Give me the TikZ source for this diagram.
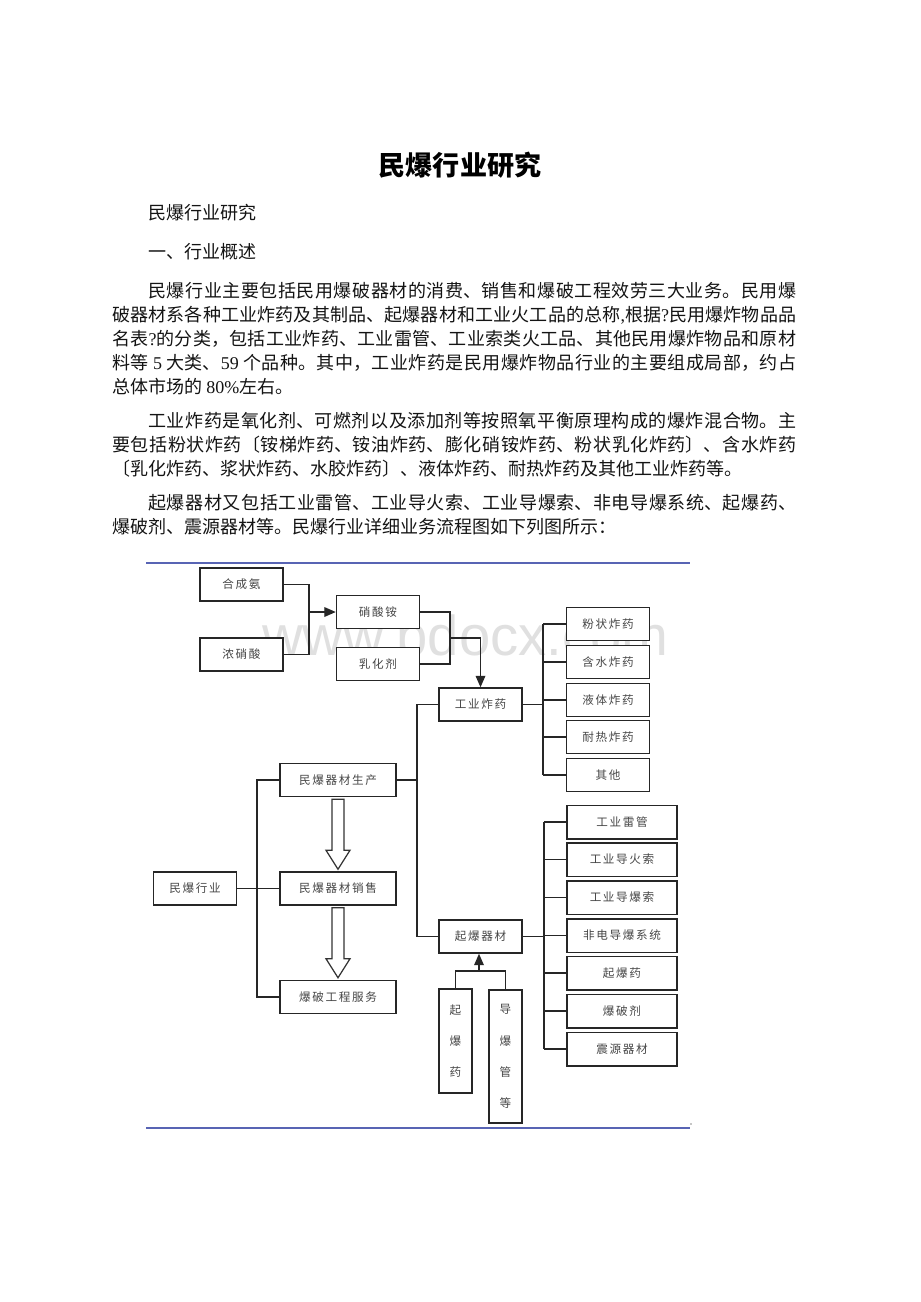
\documentclass[tikz,border=0pt]{standalone}
\usepackage{fontspec}
\setmainfont{Noto Sans CJK SC}
\newfontfamily\latfont{Liberation Serif}
\newfontfamily\boxfont[LetterSpace=14]{Noto Sans CJK SC}
\newfontfamily\wmfont{Liberation Sans}
\usetikzlibrary{arrows.meta}
\XeTeXlinebreaklocale "zh"
\XeTeXlinebreakskip=0pt plus 3pt
\definecolor{rulecol}{RGB}{88,100,180}
\definecolor{inkcol}{RGB}{70,70,70}
\newcommand{\lat}[1]{{\latfont #1}}
\tikzset{
  body/.style={anchor=west,inner sep=0pt,font=\fontsize{10.25pt}{13.66pt}\selectfont,text=black!92},
  para/.style={body,anchor=north west,text width=13.68cm,align=justify},
  blk/.style={draw=black!85,line width=0.85pt,fill=white,inner sep=0pt,text=inkcol,
    font=\boxfont\fontsize{6.6pt}{8pt}\selectfont},
  sbox/.style={blk,minimum width=1.66cm,minimum height=0.66cm},
  mbox/.style={blk,minimum width=2.32cm,minimum height=0.66cm},
  lbox/.style={blk,minimum width=2.2cm,minimum height=0.67cm},
  vbox/.style={blk,minimum width=0.66cm,align=center,font=\boxfont\fontsize{6.6pt}{17.8pt}\selectfont},
  link/.style={draw=black!85,line width=0.7pt},
  arr/.style={-{Triangle[width=5.5pt,length=6.5pt]}},
  hollow/.style={draw=black!80,line width=0.7pt,fill=white}
}
\begin{document}
\begin{tikzpicture}[x=0.02cm,y=-0.02cm]
    \fill[white] (0,0) rectangle (920,1302);
    \useasboundingbox (0,0) rectangle (920,1302);

    % text of the page
    \node[font=\bfseries\fontsize{15.4pt}{18pt}\selectfont] (title) at (460,165) {民爆行业研究};
    \node[body] (t1) at (148,213) {民爆行业研究};
    \node[body] (t2) at (148,252) {一、行业概述};
    \node[para] (p1) at (112,282) {\hspace*{0.72cm}民爆行业主要包括民用爆破器材的消费、销售和爆破工程效劳三大业务。民用爆\linebreak
      破器材系各种工业炸药及其制品、起爆器材和工业火工品的总称\lat{,}根据\lat{?}民用爆炸物品品\linebreak
      名表\lat{?}的分类，包括工业炸药、工业雷管、工业索类火工品、其他民用爆炸物品和原材\linebreak
      料等 \lat{5} 大类、\lat{59} 个品种。其中，工业炸药是民用爆炸物品行业的主要组成局部，约占\linebreak
      总体市场的 \lat{80\%}左右。};
    \node[para] (p2) at (112,412) {\hspace*{0.72cm}工业炸药是氧化剂、可燃剂以及添加剂等按照氧平衡原理构成的爆炸混合物。主\linebreak
      要包括粉状炸药〔铵梯炸药、铵油炸药、膨化硝铵炸药、粉状乳化炸药〕、含水炸药\linebreak
      〔乳化炸药、浆状炸药、水胶炸药〕、液体炸药、耐热炸药及其他工业炸药等。};
    \node[para] (p3) at (112,494) {\hspace*{0.72cm}起爆器材又包括工业雷管、工业导火索、工业导爆索、非电导爆系统、起爆药、\linebreak
      爆破剂、震源器材等。民爆行业详细业务流程图如下列图所示：};

    % frame rules and watermark
    \draw[rulecol,line width=1.1pt] (146,563) -- (690,563);
    \draw[rulecol,line width=1.1pt] (146,1128) -- (690,1128);
    \fill[black!45] (691,1124) circle (0.5pt);
    \node[anchor=base west,inner sep=0pt,text=black!12,font=\wmfont\fontsize{32pt}{32pt}\selectfont] (wm) at (262,655) {www.bdocx.com};

    % boxes
    \node[sbox] (hecheng) at (241.5,584.5) {合成氨};
    \node[sbox] (nongxiao) at (241.5,654.5) {浓硝酸};
    \node[sbox] (xiaoan) at (378,612) {硝酸铵};
    \node[sbox] (ruhua) at (378,664) {乳化剂};
    \node[sbox] (gyzy) at (480.5,704.5) {工业炸药};
    \node[sbox] (mbhy) at (195,888.5) {民爆行业};
    \node[mbox] (shengchan) at (338,780) {民爆器材生产};
    \node[mbox] (xiaoshou) at (338,888.5) {民爆器材销售};
    \node[mbox] (fuwu) at (338,997) {爆破工程服务};
    \node[sbox] (qbqc) at (480.5,936.5) {起爆器材};
    \node[vbox,minimum height=2.08cm] (qby) at (455.5,1041) {起\\爆\\药};
    \node[vbox,minimum height=2.66cm] (dbg) at (505.5,1056.5) {导\\爆\\管\\等};

    \coordinate (jA) at (309,612);
    \coordinate (jB) at (450,638);
    \coordinate (jC) at (417,780);
    \coordinate (jD) at (543,704.5);
    \coordinate (jE) at (544,936.5);
    \coordinate (jF) at (257,888.5);
    \coordinate (jG) at (479,971);

\foreach \n/\y/\t in
{zy1/624/粉状炸药,
    zy2/662/含水炸药,
    zy3/700/液体炸药,
    zy4/737/耐热炸药,
    zy5/775/其他
}
{
    \node[sbox] (\n) at (608,\y) {\t};
    \draw[link] (\n.west) -- (\n.west -| jD);
};
\foreach \n/\y/\t in
{qc1/822/工业雷管,
    qc2/859.5/工业导火索,
    qc3/897.5/工业导爆索,
    qc4/935.5/非电导爆系统,
    qc5/973/起爆药,
    qc6/1011/爆破剂,
    qc7/1049/震源器材
}
{
    \node[lbox] (\n) at (622,\y) {\t};
    \draw[link] (\n.west) -- (\n.west -| jE);
};

    % connectors
    \draw[link] (hecheng.east) -| (jA) |- (nongxiao.east);
    \draw[link,arr] (jA) -- (xiaoan.west);
    \draw[link] (xiaoan.east) -| (jB) |- (ruhua.east);
    \draw[link,arr] (jB) -| (gyzy.north);
    \draw[link] (gyzy.west) -| (jC) |- (qbqc.west);
    \draw[link] (shengchan.east) -- (jC);
    \draw[link] (gyzy.east) -- (jD);
    \draw[link] (zy1.west -| jD) -- (zy5.west -| jD);
    \draw[link] (qbqc.east) -- (jE);
    \draw[link] (qc1.west -| jE) -- (qc7.west -| jE);
    \draw[link] (mbhy.east) -- (xiaoshou.west);
    \draw[link] (shengchan.west) -| (jF) |- (fuwu.west);
    \draw[link] (qby.north) |- (jG) -| (dbg.north);
    \draw[link,arr] (jG) -- (jG |- qbqc.south);
\foreach \a in {shengchan,xiaoshou}
{
    \draw[hollow] (\a.south) ++(-6,2) -- ++(0,51) -- ++(-6,0) -- ++(12,19)
        -- ++(12,-19) -- ++(-6,0) -- ++(0,-51) -- cycle;
};
\end{tikzpicture}
\end{document}
